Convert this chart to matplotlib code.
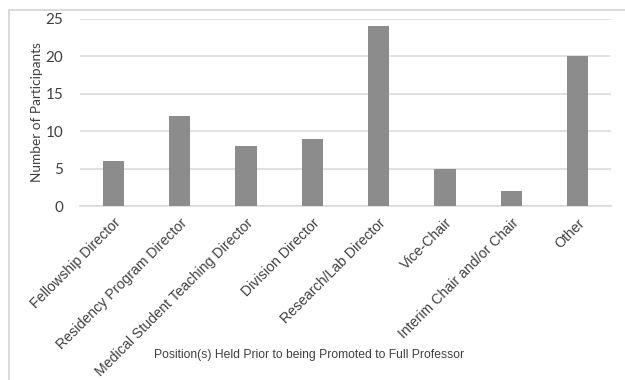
import matplotlib
matplotlib.use("Agg")
import matplotlib.pyplot as plt
from matplotlib.patches import Rectangle

categories = [
    "Fellowship Director",
    "Residency Program Director",
    "Medical Student Teaching Director",
    "Division Director",
    "Research/Lab Director",
    "Vice-Chair",
    "Interim Chair and/or Chair",
    "Other",
]
participants = [6, 12, 8, 9, 24, 5, 2, 20]
y_ticks = [0, 5, 10, 15, 20, 25]

W, H = 625, 380
fig = plt.figure(figsize=(W / 100, H / 100), dpi=100)
fig.patch.set_facecolor("white")

# light outer frame of the chart area
fig.patches.append(Rectangle((8.5 / W, -0.1), 1.2, 1 - 10 / H + 0.1,
                             transform=fig.transFigure, fill=False,
                             edgecolor="#d4d4d4", linewidth=1.2, zorder=0))

ax = fig.add_axes([80 / W, 1 - 206 / H, (611 - 80) / W, (206 - 19) / H])
x = list(range(len(categories)))
ax.bar(x, participants, width=0.32, color="#8c8c8c", zorder=3)

ax.set_xlim(-0.5, len(categories) - 0.5)
ax.set_ylim(0, 25)
ax.set_yticks(y_ticks)
ax.set_yticklabels([str(v) for v in y_ticks], fontsize=11,
                   family=["Lato", "DejaVu Sans"], color="#404040")
ax.yaxis.grid(True, color="#d9d9d9", linewidth=1.1, zorder=0)
ax.set_axisbelow(True)
for s in ["top", "right", "left"]:
    ax.spines[s].set_visible(False)
ax.spines["bottom"].set_color("#d9d9d9")
ax.spines["bottom"].set_linewidth(1.1)
ax.tick_params(axis="both", length=0)
ax.tick_params(axis="y", pad=12)

ax.set_xticks(x)
ax.set_xticklabels(categories, rotation=45, ha="right", va="top",
                   rotation_mode="anchor", fontsize=10.2,
                   family=["Liberation Sans", "DejaVu Sans"], color="#404040")
ax.tick_params(axis="x", pad=7)

ax.set_ylabel("Number of Participants", fontsize=9.8,
              family=["Lato", "DejaVu Sans"], color="#404040")
ax.yaxis.label.set_va("center")
ax.yaxis.set_label_coords((37 - 80) / 531, 0.5)

fig.text(309 / W, 1 - 355 / H,
         "Position(s) Held Prior to being Promoted to Full Professor",
         ha="center", va="center", fontsize=8.7,
         family=["Liberation Sans", "DejaVu Sans"], color="#404040")

fig.savefig("out.png", dpi=100, facecolor="white")
